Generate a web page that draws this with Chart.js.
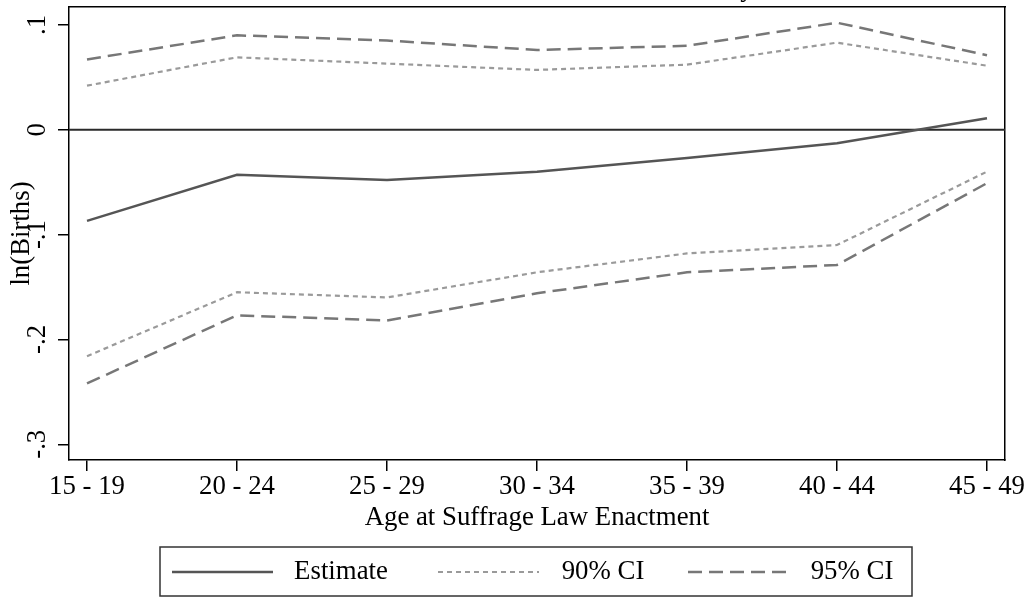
<!DOCTYPE html>
<html>
<head>
<meta charset="utf-8">
<script src="https://cdn.jsdelivr.net/npm/chart.js@4.4.0/dist/chart.umd.min.js"></script>
<style>
  html, body { margin: 0; padding: 0; background: #fff; }
  #myChart { display: block; }
</style>
</head>
<body>
<canvas id="myChart" width="1032" height="597"></canvas>
<script>
// age groups on the x axis
const ageGroups = ['15 - 19', '20 - 24', '25 - 29', '30 - 34', '35 - 39', '40 - 44', '45 - 49'];

// point estimate and confidence bands
const estimate = [-0.087, -0.043, -0.048, -0.040, -0.027, -0.013, 0.011];
const ci90Upper = [0.042, 0.069, 0.063, 0.057, 0.062, 0.083, 0.061];
const ci90Lower = [-0.216, -0.155, -0.160, -0.136, -0.118, -0.110, -0.040];
const ci95Upper = [0.067, 0.090, 0.085, 0.076, 0.080, 0.102, 0.071];
const ci95Lower = [-0.242, -0.177, -0.182, -0.156, -0.136, -0.129, -0.051];

const yTicks = [0.1, 0, -0.1, -0.2, -0.3];
const yTickLabels = ['.1', '0', '-.1', '-.2', '-.3'];

const serif = '"Liberation Serif", "DejaVu Serif", serif';
const fontSize = 26.8;

function toPoints(arr) {
    return arr.map((v, i) => ({ x: i, y: v }));
}

const estColor = '#555555';
const ci90Color = '#9a9a9a';
const ci95Color = '#777777';

const datasets = [
    { label: 'Estimate', data: toPoints(estimate), borderColor: estColor, borderWidth: 2.5, borderDash: [] },
    { label: '90% CI', data: toPoints(ci90Upper), borderColor: ci90Color, borderWidth: 2.2, borderDash: [5, 4] },
    { label: '95% CI', data: toPoints(ci95Upper), borderColor: ci95Color, borderWidth: 2.5, borderDash: [14, 7] },
    { label: '_90lo', data: toPoints(ci90Lower), borderColor: ci90Color, borderWidth: 2.2, borderDash: [5, 4] },
    { label: '_95lo', data: toPoints(ci95Lower), borderColor: ci95Color, borderWidth: 2.5, borderDash: [14, 7] }
];
datasets.forEach(d => { d.pointRadius = 0; d.fill = false; d.tension = 0; });

// draws the bits Stata adds: zero line, rotated y labels, titles, boxed legend
const stataExtras = {
    id: 'stataExtras',
    beforeDatasetsDraw(chart) {
        const c = chart.ctx, a = chart.chartArea, y = chart.scales.y;
        const y0 = y.getPixelForValue(0);
        c.save();
        c.strokeStyle = '#2a2a2a';
        c.lineWidth = 2;
        c.beginPath();
        c.moveTo(a.left, y0);
        c.lineTo(a.right, y0);
        c.stroke();
        c.restore();
    },
    afterDraw(chart) {
        const c = chart.ctx, a = chart.chartArea, y = chart.scales.y;
        c.save();
        c.fillStyle = '#000';
        c.font = fontSize + 'px ' + serif;
        c.textAlign = 'center';
        c.textBaseline = 'middle';
        yTicks.forEach((t, i) => {
            c.save();
            c.translate(a.left - 31, y.getPixelForValue(t));
            c.rotate(-Math.PI / 2);
            c.fillText(yTickLabels[i], 0, 0);
            c.restore();
        });
        // y axis title
        c.save();
        c.translate(22, (a.top + a.bottom) / 2);
        c.rotate(-Math.PI / 2);
        c.fillText('ln(Births)', 0, 0);
        c.restore();
        // x axis title
        c.fillText('Age at Suffrage Law Enactment', (a.left + a.right) / 2, 518);
        // clipped main title above the canvas
        c.textBaseline = 'alphabetic';
        c.fillText('y', 747, -4);

        // legend box
        const lx = 160, ly = 547, lw = 752, lh = 49;
        c.strokeStyle = '#333';
        c.lineWidth = 1.5;
        c.strokeRect(lx, ly, lw, lh);
        const items = chart.data.datasets.slice(0, 3);
        const sampleX = [172, 438, 688];
        const textX = [341, 603, 852];
        const my = 572;
        items.forEach((d, i) => {
            c.strokeStyle = d.borderColor;
            c.lineWidth = d.borderWidth;
            c.setLineDash(d.borderDash);
            c.beginPath();
            c.moveTo(sampleX[i], my);
            c.lineTo(sampleX[i] + 101, my);
            c.stroke();
            c.setLineDash([]);
            c.fillStyle = '#000';
            c.textAlign = 'center';
            c.textBaseline = 'middle';
            c.fillText(d.label, textX[i], my);
        });
        c.restore();
    }
};

const ctx = document.getElementById('myChart');

const cfg = {
    type: 'line',
    data: { datasets: datasets },
    options: {
        responsive: false,
        animation: false,
        layout: { padding: { top: 7, right: 27, left: 0, bottom: 0 } },
        plugins: { legend: { display: false }, tooltip: { enabled: false } },
        scales: {
            x: {
                type: 'linear',
                min: -0.12,
                max: 6.12,
                afterBuildTicks: s => { s.ticks = ageGroups.map((g, i) => ({ value: i })); },
                afterFit: s => { s.height = 137; },
                ticks: {
                    callback: v => ageGroups[v],
                    color: '#000',
                    font: { family: serif, size: fontSize },
                    padding: 0,
                    maxRotation: 0,
                    minRotation: 0,
                    autoSkip: false
                },
                grid: { drawOnChartArea: false, drawTicks: true, tickLength: 11, color: '#000', lineWidth: 1.5 },
                border: { display: true, color: '#000', width: 1.5 }
            },
            y: {
                type: 'linear',
                min: -0.315,
                max: 0.117,
                afterBuildTicks: s => { s.ticks = yTicks.map(v => ({ value: v })); },
                afterFit: s => { s.width = 69; },
                ticks: { display: false },
                grid: { drawOnChartArea: false, drawTicks: true, tickLength: 11, color: '#000', lineWidth: 1.5 },
                border: { display: true, color: '#000', width: 1.5 }
            },
            x2: {
                type: 'linear', position: 'top', display: true,
                ticks: { display: false }, grid: { display: false },
                border: { display: true, color: '#000', width: 1.5 },
                afterFit: s => { s.height = 0; }
            },
            y2: {
                type: 'linear', position: 'right', display: true,
                ticks: { display: false }, grid: { display: false },
                border: { display: true, color: '#000', width: 1.5 },
                afterFit: s => { s.width = 0; }
            }
        }
    },
    plugins: [stataExtras]
};

const myChart = new Chart(ctx, cfg);
</script>
</body>
</html>
